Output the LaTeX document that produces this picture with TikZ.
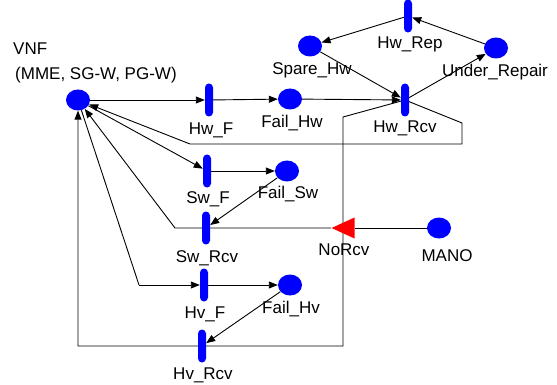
\documentclass[tikz,border=0pt]{standalone}
\usepackage{fontspec}
\setmainfont{Liberation Sans}
\usetikzlibrary{shapes.geometric,arrows.meta}
\pgfdeclarelayer{bg}
\pgfsetlayers{bg,main}
\begin{document}
\begin{tikzpicture}[x=1pt,y=-1pt,
  place/.style={ellipse,fill=blue,minimum width=24pt,minimum height=21pt,inner sep=0pt},
  trans/.style={rectangle,fill=blue,minimum width=8pt,minimum height=33pt,rounded corners=4pt,inner sep=0pt},
  lbl/.style={font=\fontsize{17}{20}\selectfont,inner sep=0pt,anchor=base},
  arc/.style={line width=0.9pt,-{Triangle[length=9pt,width=7pt]}},
  wire/.style={line width=0.9pt}]
\useasboundingbox (0,0) rectangle (557,385);
% places
\node[place] (vnf) at (78,100) {};
\node[place] (failhw) at (290,99) {};
\node[place] (sparehw) at (310,46) {};
\node[place] (underrep) at (496,48) {};
\node[place] (failsw) at (287,171) {};
\node[place] (mano) at (439,228) {};
\node[place] (failhv) at (290,285) {};
% transitions
\node[trans] (hwf) at (209,100) {};
\node[trans] (hwrcv) at (405,100) {};
\node[trans] (hwrep) at (408,16) {};
\node[trans] (swf) at (207,171) {};
\node[trans] (swrcv) at (206,228) {};
\node[trans] (hvf) at (204,285) {};
\node[trans] (hvrcv) at (202,346) {};
\node[isosceles triangle,isosceles triangle stretches,shape border rotate=180,fill=red,
  minimum height=23pt,minimum width=21pt,inner sep=0pt,anchor=apex] (norcv) at (331,228) {};
% labels
\node[lbl,anchor=base west] (tvnf) at (13,55) {VNF};
\node[lbl,anchor=base west] (tvnf2) at (15,80) {(MME, SG-W, PG-W)};
\node[lbl] (thwf) at (211,135) {Hw\_F};
\node[lbl] (tfailhw) at (292,128) {Fail\_Hw};
\node[lbl] (tspare) at (312,75) {Spare\_Hw};
\node[lbl] (thwrep) at (410,49) {Hw\_Rep};
\node[lbl] (tunder) at (495,77) {Under\_Repair};
\node[lbl] (thwrcv) at (405,133) {Hw\_Rcv};
\node[lbl] (tswf) at (208,204) {Sw\_F};
\node[lbl] (tfailsw) at (288,198) {Fail\_Sw};
\node[lbl] (tswrcv) at (207,262) {Sw\_Rcv};
\node[lbl] (tnorcv) at (344,255) {NoRcv};
\node[lbl] (tmano) at (447,261) {MANO};
\node[lbl] (thvf) at (205,318) {Hv\_F};
\node[lbl] (tfailhv) at (291,313) {Fail\_Hv};
\node[lbl] (thvrcv) at (203,379) {Hv\_Rcv};
% bend points
\coordinate (r1) at (462,123);
\coordinate (r2) at (462,144);
\coordinate (r3) at (190,144);
\coordinate (d1) at (343,117);
\coordinate (d2) at (343,346);
\coordinate (d3) at (78,346);
\coordinate (n1) at (175,228);
\coordinate (h1) at (139,285);
\begin{pgfonlayer}{bg}
\draw[arc] (vnf) -- (hwf);
\draw[arc] (hwf) -- (failhw);
\draw[arc] (failhw) -- (hwrcv);
\draw[arc] (sparehw) -- (hwrcv);
\draw[arc] (hwrcv.center) -- (underrep);
\draw[arc] (underrep) -- (hwrep);
\draw[arc] (hwrep.center) -- (sparehw);
\draw[arc] (hwrcv.center) -- (r1) -- (r2) -- (r3) -- (vnf);
\draw[arc] (hwrcv.center) -- (d1) -- (d2) -- (d3) -- (vnf);
\draw[arc] (vnf) -- (swf);
\draw[arc] (swf) -- (failsw);
\draw[arc] (failsw) -- (swrcv);
\draw[wire] (mano) -- (norcv);
\draw[arc] (norcv.apex) -- (n1) -- (vnf);
\draw[wire] (vnf) -- (h1);
\draw[arc] (h1) -- (hvf);
\draw[arc] (hvf) -- (failhv);
\draw[arc] (failhv) -- (hvrcv);
\end{pgfonlayer}
\end{tikzpicture}
\end{document}
